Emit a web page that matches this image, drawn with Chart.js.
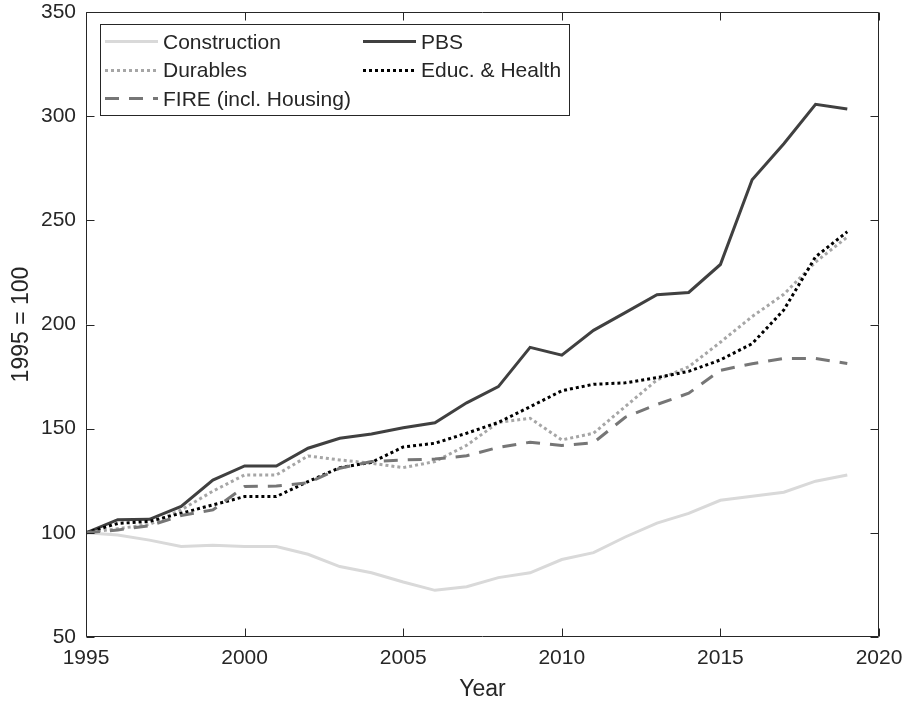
<!DOCTYPE html>
<html>
<head>
<meta charset="utf-8">
<script src="https://cdn.jsdelivr.net/npm/chart.js@4/dist/chart.umd.min.js"></script>
<style>
  html, body { margin: 0; padding: 0; background: #fff; }
  #wrap { width: 906px; height: 704px; }
</style>
</head>
<body>
<div id="wrap"><canvas id="c" width="906" height="704"></canvas></div>
<script>
// ---- data ----
const years = [1995,1996,1997,1998,1999,2000,2001,2002,2003,2004,2005,2006,2007,2008,2009,2010,2011,2012,2013,2014,2015,2016,2017,2018,2019];
const construction = [100, 99, 96.5, 93.5, 94, 93.4, 93.4, 89.7, 83.8, 80.8, 76.4, 72.4, 74.1, 78.5, 80.8, 87.2, 90.5, 98, 104.7, 109.3, 115.6, 117.6, 119.5, 124.8, 127.8];
const pbs = [100, 106.3, 106.5, 112.7, 125.3, 132.1, 132.1, 140.6, 145.4, 147.4, 150.4, 152.8, 162.4, 170.2, 189, 185.3, 197.2, 205.7, 214.3, 215.4, 228.8, 269.5, 286.8, 305.7, 303.4];
const durables = [100, 102, 104, 111, 120, 127.8, 127.8, 136.9, 135, 133.4, 131.3, 134.2, 142, 153, 155, 144.6, 147.8, 160.6, 173.4, 179.7, 191.5, 203.8, 214.5, 230, 242];
const educHealth = [100, 104.5, 105.5, 109.4, 113.4, 117.4, 117.4, 124.6, 131.3, 133.8, 141.2, 143, 147.8, 153, 160.5, 168.2, 171.3, 172, 174.5, 177.5, 183, 190.8, 207, 232.5, 244.5];
const fire = [100, 101.4, 103.4, 108.3, 111, 122.2, 122.5, 124, 131, 134.2, 135, 135.4, 137, 141, 143.5, 141.9, 143.3, 155.5, 161.6, 167, 178, 181.2, 183.7, 183.7, 181.3];
const seriesNames = ['Construction', 'PBS', 'Durables', 'Educ. & Health', 'FIRE (incl. Housing)'];
const xTicks = [1995, 2000, 2005, 2010, 2015, 2020];
const yTicks = [50, 100, 150, 200, 250, 300, 350];
const xTitle = 'Year';
const yTitle = '1995 = 100';

const AXIS = '#262626';
const FONT = '"Liberation Sans", Arial, Helvetica, sans-serif';

function pts(vals) { return years.map((yr, i) => ({ x: yr, y: vals[i] })); }

const styles = [
  { color: '#d9d9d9', dash: [] },
  { color: '#404040', dash: [] },
  { color: '#a6a6a6', dash: [3, 3] },
  { color: '#000000', dash: [3, 3] },
  { color: '#767676', dash: [14, 10] }
];
const allVals = [construction, pbs, durables, educHealth, fire];

const datasets = allVals.map((v, i) => ({
  label: seriesNames[i],
  data: pts(v),
  borderColor: styles[i].color,
  backgroundColor: styles[i].color,
  borderDash: styles[i].dash,
  borderWidth: 3,
  borderCapStyle: 'butt',
  borderJoinStyle: 'miter',
  pointRadius: 0,
  tension: 0,
  fill: false,
  order: allVals.length - i
}));

function zeroPad(scale) {
  scale.paddingLeft = 0; scale.paddingRight = 0;
  scale.paddingTop = 0; scale.paddingBottom = 0;
}

const boxPlugin = {
  id: 'boxPlugin',
  afterDraw(chart) {
    const ctx = chart.ctx;
    const a = chart.chartArea;
    const xs = chart.scales.x, ys = chart.scales.y;
    ctx.save();
    ctx.strokeStyle = AXIS;
    ctx.lineWidth = 1;
    const L = Math.round(a.left) + 0.5, R = Math.round(a.right) - 0.5;
    const T = Math.round(a.top) + 0.5, B = Math.round(a.bottom) - 0.5;
    ctx.beginPath();
    ctx.rect(L, T, R - L, B - T);
    ctx.stroke();
    const tl = 8;
    ctx.beginPath();
    xTicks.forEach(v => {
      const px = Math.round(xs.getPixelForValue(v)) + 0.5;
      ctx.moveTo(px, B); ctx.lineTo(px, B - tl);
      ctx.moveTo(px, T); ctx.lineTo(px, T + tl);
    });
    yTicks.forEach(v => {
      const py = Math.round(ys.getPixelForValue(v)) + 0.5;
      ctx.moveTo(L, py); ctx.lineTo(L + tl, py);
      ctx.moveTo(R, py); ctx.lineTo(R - tl, py);
    });
    ctx.stroke();

    // legend
    const lx = 100.5, ly = 24.5, lw = 469, lh = 91;
    ctx.fillStyle = '#ffffff';
    ctx.fillRect(lx, ly, lw, lh);
    ctx.strokeStyle = AXIS;
    ctx.lineWidth = 1;
    ctx.strokeRect(lx, ly, lw, lh);
    const rowY = [42, 70.7, 99.3];
    const colX = [105, 363];
    chart.data.datasets.forEach((ds, i) => {
      const col = i % 2, row = Math.floor(i / 2);
      const x0 = colX[col], y0 = Math.round(rowY[row]);
      ctx.save();
      ctx.strokeStyle = ds.borderColor;
      ctx.lineWidth = ds.borderWidth;
      ctx.setLineDash(ds.borderDash);
      ctx.lineCap = 'butt';
      ctx.beginPath();
      ctx.moveTo(x0, y0 - 0.5);
      ctx.lineTo(x0 + 53, y0 - 0.5);
      ctx.stroke();
      ctx.restore();
      ctx.fillStyle = AXIS;
      ctx.font = '21px ' + FONT;
      ctx.textBaseline = 'middle';
      ctx.textAlign = 'left';
      ctx.fillText(ds.label, x0 + 58, rowY[row] + 1);
    });
    ctx.restore();
  }
};

new Chart(document.getElementById('c'), {
  type: 'line',
  data: { datasets },
  options: {
    responsive: false,
    animation: false,
    events: [],
    layout: { padding: { top: 12, right: 27, left: 0, bottom: 0 } },
    plugins: { legend: { display: false }, tooltip: { enabled: false }, title: { display: false } },
    scales: {
      x: {
        type: 'linear',
        min: 1995, max: 2020,
        afterBuildTicks(scale) { scale.ticks = xTicks.map(v => ({ value: v })); },
        afterFit(scale) { scale.height = 67; zeroPad(scale); },
        grid: { display: false, drawTicks: false },
        border: { display: false },
        ticks: {
          padding: 11,
          color: AXIS,
          font: { family: FONT, size: 21, lineHeight: 1 },
          maxRotation: 0, autoSkip: false,
          callback: v => String(v)
        },
        title: {
          display: true, text: xTitle, color: AXIS,
          font: { family: FONT, size: 23, lineHeight: 1 },
          padding: { top: 0, bottom: 2.5 }
        }
      },
      y: {
        type: 'linear',
        min: 50, max: 350,
        afterBuildTicks(scale) { scale.ticks = yTicks.map(v => ({ value: v })); },
        afterFit(scale) { scale.width = 86; zeroPad(scale); },
        grid: { display: false, drawTicks: false },
        border: { display: false },
        ticks: {
          padding: 10,
          color: AXIS,
          font: { family: FONT, size: 21, lineHeight: 1 },
          autoSkip: false,
          callback: v => String(v)
        },
        title: {
          display: true, text: yTitle, color: AXIS,
          font: { family: FONT, size: 23, lineHeight: 1 },
          padding: { top: 10.5, bottom: 0 }
        }
      }
    }
  },
  plugins: [boxPlugin]
});
</script>
</body>
</html>
